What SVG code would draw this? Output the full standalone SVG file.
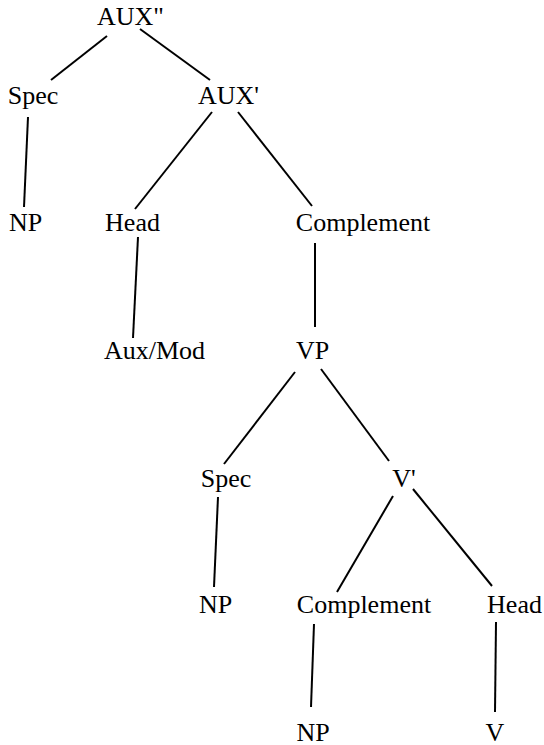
<svg xmlns="http://www.w3.org/2000/svg" width="544" height="745" viewBox="0 0 544 745">
<style>
text{font-family:"Liberation Serif","Times New Roman",serif;font-size:26px;fill:#000;text-anchor:middle}
line{stroke:#000;stroke-width:2;stroke-linecap:butt}
</style>
<rect width="544" height="745" fill="#fff"/>
<g id="connectors">
<line x1="107" y1="36" x2="51" y2="80"/>
<line x1="140" y1="29" x2="210" y2="80"/>
<line x1="28" y1="117" x2="24" y2="207"/>
<line x1="212" y1="112" x2="135" y2="209"/>
<line x1="238" y1="112" x2="312" y2="206"/>
<line x1="138" y1="237" x2="133" y2="338"/>
<line x1="315" y1="243" x2="315" y2="327"/>
<line x1="295" y1="372" x2="224" y2="464"/>
<line x1="321" y1="369" x2="389" y2="461"/>
<line x1="218" y1="497" x2="214" y2="587"/>
<line x1="393" y1="496" x2="337" y2="592"/>
<line x1="413" y1="489" x2="492" y2="586"/>
<line x1="314" y1="624" x2="311" y2="707"/>
<line x1="496" y1="622" x2="495" y2="712"/>
</g>
<g id="aux2"><text x="130.5" y="25">AUX"</text></g>
<g id="spec1"><text x="33" y="104">Spec</text></g>
<g id="aux1"><text x="228.5" y="104">AUX'</text></g>
<g id="np1"><text x="25.5" y="231">NP</text></g>
<g id="head1"><text x="132.5" y="231">Head</text></g>
<g id="comp1"><text x="363" y="231">Complement</text></g>
<g id="auxmod"><text x="154.5" y="359">Aux/Mod</text></g>
<g id="vp"><text x="312.5" y="359">VP</text></g>
<g id="spec2"><text x="226" y="487">Spec</text></g>
<g id="vbar"><text x="404" y="487">V'</text></g>
<g id="np2"><text x="215.5" y="613">NP</text></g>
<g id="comp2"><text x="364" y="613">Complement</text></g>
<g id="head2"><text x="514.5" y="613">Head</text></g>
<g id="np3"><text x="313" y="741">NP</text></g>
<g id="v"><text x="495" y="741">V</text></g>
</svg>
